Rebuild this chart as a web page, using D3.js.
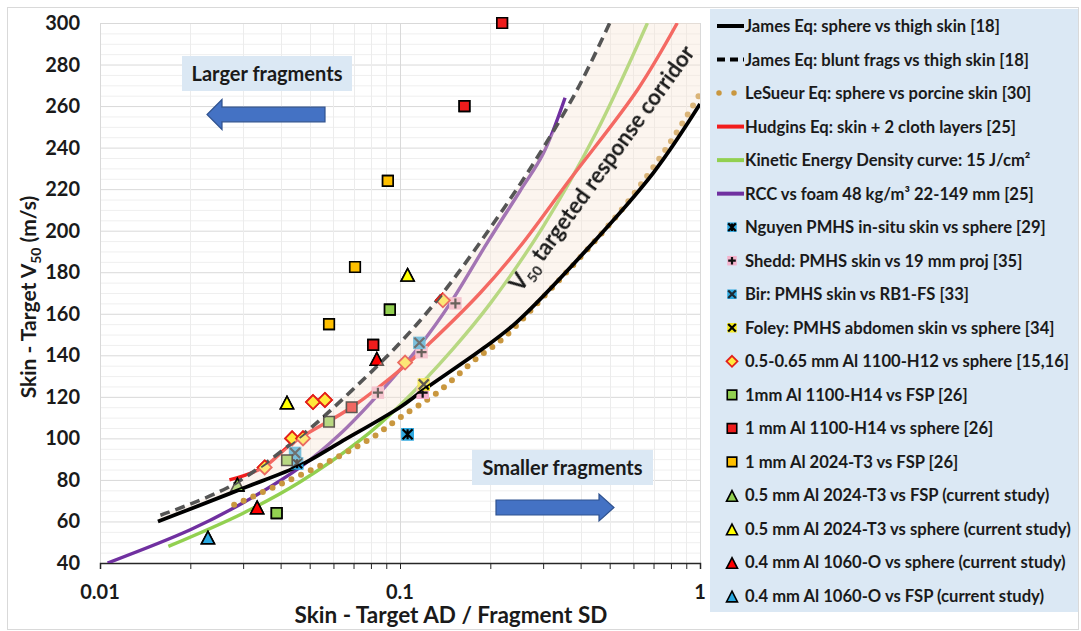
<!DOCTYPE html>
<html>
<head>
<meta charset="utf-8">
<script src="https://cdn.jsdelivr.net/npm/d3@7"></script>
<style>
  body { margin: 0; background: #fff; }
  svg { display: block; }
  text { font-family: Lato, "Open Sans", "Liberation Sans", sans-serif; font-weight: 700; fill: #1a1a1a; }
</style>
</head>
<body>
<svg id="chart" width="1081" height="631"></svg>
<script>
// ---- axis ticks ----
const xTickValues = [0.01, 0.1, 1];
const xTickLabels = ["0.01", "0.1", "1"];
const yTickValues = [40, 60, 80, 100, 120, 140, 160, 180, 200, 220, 240, 260, 280, 300];

// ---- V50 model curves: [AD/SD, V50 m/s] ----
const jamesSphere = [[0.0156, 60], [0.02, 66], [0.03, 76], [0.0464, 87], [0.063, 98], [0.1, 115], [0.119, 123],
  [0.19, 143.5], [0.245, 156], [0.42, 191], [0.7, 228], [1, 261]];
const jamesBlunt = [[0.0159, 63], [0.0272, 77], [0.0475, 102], [0.069, 123], [0.1, 146], [0.139, 170],
  [0.22, 210], [0.286, 235], [0.39, 268], [0.5, 300]];
const leSueur = [[0.028, 68], [0.04, 78], [0.06, 90], [0.08, 100], [0.1, 110], [0.133, 122], [0.18, 138.5],
  [0.22, 148], [0.3, 168], [0.54, 209], [0.8, 243], [1, 266]];
const hudgins = [[0.027, 80], [0.035, 86], [0.044, 98], [0.069, 115], [0.104, 135], [0.126, 146], [0.185, 170],
  [0.25, 192], [0.37, 225], [0.62, 268], [0.84, 300]];
const kineticEnergyDensity = [[0.0169, 48], [0.03, 64], [0.0464, 79], [0.0735, 99], [0.1, 116], [0.15, 143],
  [0.2, 165], [0.3, 202], [0.45, 247], [0.668, 300]];
const rccFoam = [[0.0106, 40], [0.02, 56], [0.03, 69], [0.0464, 86], [0.063, 102], [0.0844, 121], [0.117, 145],
  [0.147, 165], [0.195, 194], [0.251, 219], [0.30, 237], [0.355, 264]];

// ---- experimental data: [AD/SD, V50 m/s] ----
const nguyen = [[0.0454, 88], [0.106, 102]];
const shedd = [[0.0844, 122], [0.118, 141.5], [0.119, 122], [0.153, 165]];
const bir = [[0.0447, 93], [0.116, 146]];
const foley = [[0.12, 126]];
const al1100H12Sphere = [[0.0354, 86], [0.0437, 100], [0.0475, 100], [0.0513, 117.5], [0.0562, 118.5], [0.104, 136.5], [0.139, 166.5]];
const al1100H14Fsp = [[0.0388, 64], [0.042, 89.5], [0.058, 108], [0.0925, 162]];
const al1100H14Sphere = [[0.069, 115], [0.0814, 145], [0.164, 260], [0.219, 300]];
const al2024T3Fsp1mm = [[0.058, 155], [0.0708, 182.5], [0.0911, 224]];
const al2024T3Fsp05 = [[0.0287, 77.5]];
const al2024T3Sphere05 = [[0.042, 117], [0.106, 178.5]];
const al1060Sphere = [[0.0334, 66.5], [0.0837, 138]];
const al1060Fsp = [[0.0229, 52]];

// ---- legend text ----
const legendLabels = [
  "James Eq: sphere vs thigh skin [18]",
  "James Eq: blunt frags vs thigh skin [18]",
  "LeSueur Eq: sphere vs porcine skin  [30]",
  "Hudgins Eq: skin + 2 cloth layers [25]",
  "Kinetic Energy Density curve:  15 J/cm\u00B2",
  "RCC vs foam  48 kg/m\u00B3  22-149 mm [25]",
  "Nguyen PMHS in-situ skin vs sphere [29]",
  "Shedd: PMHS skin vs 19 mm proj [35]",
  "Bir: PMHS skin vs RB1-FS [33]",
  "Foley: PMHS abdomen skin vs sphere [34]",
  "0.5-0.65 mm Al 1100-H12 vs sphere [15,16]",
  "1mm Al 1100-H14 vs FSP [26]",
  "1 mm Al 1100-H14 vs sphere [26]",
  "1 mm Al 2024-T3 vs FSP [26]",
  "0.5 mm Al 2024-T3 vs FSP (current study)",
  "0.5 mm Al 2024-T3 vs sphere (current study)",
  "0.4 mm Al 1060-O vs sphere (current study)",
  "0.4 mm Al 1060-O vs FSP (current study)"
];

// ---- drawing ----
const svg = d3.select("#chart");
const P = { l: 100, r: 700, t: 23, b: 563 };
const x = d3.scaleLog().domain([0.01, 1]).range([P.l, P.r]);
const y = d3.scaleLinear().domain([40, 300]).range([P.b, P.t]);

svg.append("rect").attr("x", 7.5).attr("y", 7.5).attr("width", 1071).attr("height", 622)
  .attr("fill", "#fff").attr("stroke", "#d9d9d9");

const defs = svg.append("defs");
defs.append("clipPath").attr("id", "plotClip").append("rect")
  .attr("x", P.l).attr("y", P.t).attr("width", P.r - P.l).attr("height", P.b - P.t);

// grid
const grid = svg.append("g");
grid.selectAll(".hmin").data(d3.range(40, 301, 5)).join("line")
  .attr("x1", P.l).attr("x2", P.r).attr("y1", d => y(d) + 0.5).attr("y2", d => y(d) + 0.5)
  .attr("stroke", d => d % 20 === 0 ? "#d9d9d9" : "#efefef").attr("stroke-width", 1);
grid.selectAll(".vmin").data(x.ticks()).join("line")
  .attr("y1", P.t).attr("y2", P.b).attr("x1", d => Math.round(x(d)) + 0.5).attr("x2", d => Math.round(x(d)) + 0.5)
  .attr("stroke", d => xTickValues.includes(+d.toPrecision(3)) ? "#d9d9d9" : "#ececec").attr("stroke-width", 1);
svg.append("rect").attr("x", P.l + 0.5).attr("y", P.t + 0.5).attr("width", P.r - P.l).attr("height", P.b - P.t)
  .attr("fill", "none").attr("stroke", "#d9d9d9");

// bottom axis
const xAxis = d3.axisBottom(x).tickValues(x.ticks()).tickSize(6).tickFormat("");
const gx = svg.append("g").attr("transform", `translate(0,${P.b})`).call(xAxis);
gx.select(".domain").attr("stroke", "#262626").attr("stroke-width", 1.5);
gx.selectAll(".tick line").attr("stroke", "#262626");
svg.selectAll(".xlab").data(xTickValues).join("text")
  .attr("x", d => x(d)).attr("y", 599).attr("text-anchor", "middle").attr("font-size", 20)
  .text((d, i) => xTickLabels[i]);
svg.selectAll(".ylab").data(yTickValues).join("text")
  .attr("x", 80).attr("y", d => y(d) + 7).attr("text-anchor", "end").attr("font-size", 20)
  .text(d => d);

// axis titles
const yt = svg.append("text").attr("transform", "translate(36,297) rotate(-90)").attr("text-anchor", "middle").attr("font-size", 21);
yt.append("tspan").text("Skin - Target  V");
yt.append("tspan").attr("font-size", 14).attr("dy", 5).text("50");
yt.append("tspan").attr("dy", -5).text(" (m/s)");
svg.append("text").attr("x", 451).attr("y", 623).attr("text-anchor", "middle").attr("font-size", 22.5)
  .text("Skin - Target AD / Fragment SD");

// marker symbols
function shapePath(shape, s) {
  if (shape === "square") return `M${-s / 2},${-s / 2}h${s}v${s}h${-s}Z`;
  if (shape === "diamond") return `M0,${-s / 2}L${s / 2},0L0,${s / 2}L${-s / 2},0Z`;
  const h = s * 0.88;
  return `M0,${-h / 2 - 1}L${s / 2},${h / 2}L${-s / 2},${h / 2}Z`;
}
function glyphPath(g, s) {
  const a = s * 0.4;
  if (g === "x") return `M${-a},${-a}L${a},${a}M${a},${-a}L${-a},${a}`;
  if (g === "plus") return `M${-a},0H${a}M0,${-a}V${a}`;
  if (g === "star") return `M${-a},${-a}L${a},${a}M${a},${-a}L${-a},${a}M0,${-a}V${a}`;
  return null;
}
const markerStyles = [
  { data: nguyen, shape: "square", size: 12.5, fill: "#2ea8df", stroke: "none", glyph: "star", glyphColor: "#000" },
  { data: shedd, shape: "square", size: 12.5, fill: "#f5b2cc", stroke: "none", glyph: "plus", glyphColor: "#111" },
  { data: bir, shape: "square", size: 12.5, fill: "#2ea8df", stroke: "none", glyph: "x", glyphColor: "#1d2a33" },
  { data: foley, shape: "square", size: 12.5, fill: "#f4ea1d", stroke: "none", glyph: "x", glyphColor: "#000" },
  { data: al1100H12Sphere, shape: "diamond", size: 14, fill: "#ffe93d", stroke: "#e3201b" },
  { data: al1100H14Fsp, shape: "square", size: 10.5, fill: "#92d050", stroke: "#000" },
  { data: al1100H14Sphere, shape: "square", size: 10.5, fill: "#ee1c1c", stroke: "#000" },
  { data: al2024T3Fsp1mm, shape: "square", size: 10.5, fill: "#ffc000", stroke: "#000" },
  { data: al2024T3Fsp05, shape: "triangle", size: 13, fill: "#92d050", stroke: "#000" },
  { data: al2024T3Sphere05, shape: "triangle", size: 13, fill: "#ffff00", stroke: "#000" },
  { data: al1060Sphere, shape: "triangle", size: 13, fill: "#ff0000", stroke: "#000" },
  { data: al1060Fsp, shape: "triangle", size: 13, fill: "#29a8e0", stroke: "#000" }
];
function drawMarker(g, st, cx, cy, s) {
  const m = g.append("g").attr("transform", `translate(${cx},${cy})`);
  m.append("path").attr("d", shapePath(st.shape, s)).attr("fill", st.fill)
    .attr("stroke", st.stroke).attr("stroke-width", st.shape === "diamond" ? 1.8 : 1.6)
    .attr("stroke-linejoin", "miter");
  if (st.glyph) m.append("path").attr("d", glyphPath(st.glyph, s)).attr("stroke", st.glyphColor)
    .attr("stroke-width", 2.2).attr("fill", "none");
}

// curves
const line = d3.line().x(d => x(d[0])).y(d => y(d[1])).curve(d3.curveCatmullRom.alpha(0.5));
const curves = svg.append("g").attr("clip-path", "url(#plotClip)").attr("fill", "none");
curves.append("path").attr("d", line(rccFoam)).attr("stroke", "#7030a0").attr("stroke-width", 3.4);
curves.append("path").attr("d", line(kineticEnergyDensity)).attr("stroke", "#92d050").attr("stroke-width", 3.4);
curves.append("path").attr("d", line(hudgins)).attr("stroke", "#f21d1d").attr("stroke-width", 3.4);
curves.append("path").attr("d", line(leSueur)).attr("stroke", "#c9973f").attr("stroke-width", 6)
  .attr("stroke-linecap", "round").attr("stroke-dasharray", "0 10.5");

// markers under the corridor tint
const marksUnder = svg.append("g");
markerStyles.forEach(st => st.data.forEach(d => drawMarker(marksUnder, st, x(d[0]), y(d[1]), st.size)));

// targeted response corridor (translucent band between the two James curves)
const upper = line(jamesBlunt);
const lowerRev = line(jamesSphere.slice().reverse());
const corridorPath = upper + `L${x(1)},${y(300)}` + lowerRev.replace(/^M/, "L") + "Z";
svg.append("path").attr("d", corridorPath).attr("clip-path", "url(#plotClip)")
  .attr("fill", "#f7e6d6").attr("fill-opacity", 0.38);

// James curves on top of the tint
const jc = svg.append("g").attr("clip-path", "url(#plotClip)").attr("fill", "none");
jc.append("path").attr("d", line(jamesBlunt)).attr("stroke", "#555").attr("stroke-width", 3.6)
  .attr("stroke-dasharray", "10 6");
jc.append("path").attr("d", line(jamesSphere)).attr("stroke", "#000").attr("stroke-width", 3.8);

// markers outside the corridor stay at full strength above the lines
const outside = defs.append("mask").attr("id", "outsideCorridor");
outside.append("rect").attr("x", 0).attr("y", 0).attr("width", 1081).attr("height", 631).attr("fill", "#fff");
outside.append("path").attr("d", corridorPath).attr("fill", "#000");
const marksOver = svg.append("g").attr("mask", "url(#outsideCorridor)");
markerStyles.forEach(st => st.data.forEach(d => drawMarker(marksOver, st, x(d[0]), y(d[1]), st.size)));

const ct = svg.append("text").attr("transform", "translate(521,293) rotate(-54)").attr("font-size", 22).attr("fill", "#111");
ct.append("tspan").text("V");
ct.append("tspan").attr("font-size", 14).attr("dy", 5).text("50");
ct.append("tspan").attr("dy", -5).text("  targeted response corridor");

// direction hints
function hintBox(bx, by, bw, bh, label) {
  svg.append("rect").attr("x", bx).attr("y", by).attr("width", bw).attr("height", bh).attr("fill", "#dbe8f4");
  svg.append("text").attr("x", bx + bw / 2).attr("y", by + bh / 2 + 7).attr("text-anchor", "middle")
    .attr("font-size", 20).text(label);
}
hintBox(182, 56, 170, 35, "Larger fragments");
hintBox(472, 450, 181, 35, "Smaller fragments");
function arrow(tail, tip, cy, shaftHalf, headHalf, headLen) {
  const dir = Math.sign(tip - tail);
  const base = tip - dir * headLen;
  const d = `M${tail},${cy - shaftHalf}L${base},${cy - shaftHalf}L${base},${cy - headHalf}L${tip},${cy}` +
    `L${base},${cy + headHalf}L${base},${cy + shaftHalf}L${tail},${cy + shaftHalf}Z`;
  svg.append("path").attr("d", d).attr("fill", "#4472c4").attr("stroke", "#2f528f").attr("stroke-width", 1.2);
}
arrow(325, 207, 114.5, 7.3, 15, 15);
arrow(496, 614, 507.5, 7.5, 13.5, 15);

// legend
const lg = svg.append("g");
lg.append("rect").attr("x", 710).attr("y", 9).attr("width", 368).attr("height", 603).attr("fill", "#dbe8f4");
const rowY = i => 26 + i * 33.53;
const lineSamples = [
  { stroke: "#000", w: 4 },
  { stroke: "#000", w: 4, dash: "8 5" },
  { stroke: "#c9973f", w: 5.5, dash: "0 15", cap: "round" },
  { stroke: "#f21d1d", w: 4 },
  { stroke: "#92d050", w: 4 },
  { stroke: "#7030a0", w: 4 }
];
lineSamples.forEach((s, i) => {
  const p = lg.append("line").attr("x1", s.cap ? 719 : 717).attr("x2", s.cap ? 735 : 744)
    .attr("y1", rowY(i)).attr("y2", rowY(i)).attr("stroke", s.stroke).attr("stroke-width", s.w);
  if (s.dash) p.attr("stroke-dasharray", s.dash);
  if (s.cap) p.attr("stroke-linecap", s.cap);
});
markerStyles.forEach((st, j) => {
  const i = j + 6;
  const s = st.shape === "triangle" ? 11 : (st.shape === "diamond" ? 11 : 9.5);
  drawMarker(lg, st, 732, rowY(i) + (st.shape === "triangle" ? 1 : 0), s);
});
lg.selectAll(".lt").data(legendLabels).join("text")
  .attr("x", 745).attr("y", (d, i) => rowY(i) + 6).attr("font-size", 16.6).text(d => d);
</script>
</body>
</html>
